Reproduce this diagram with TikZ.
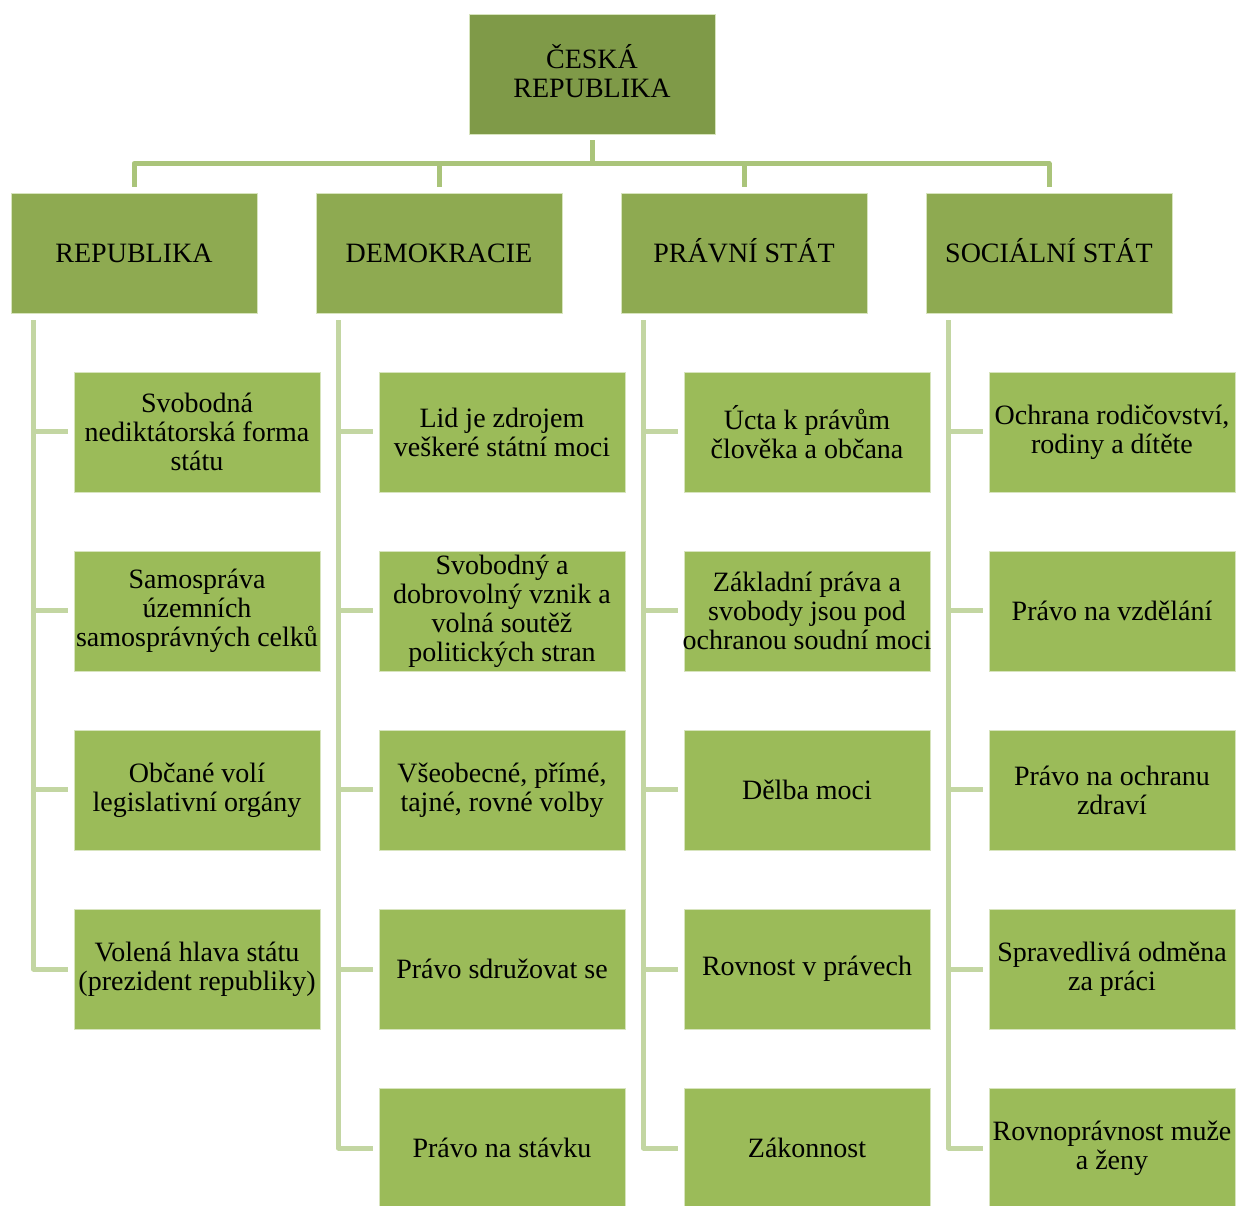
\documentclass[tikz,border=0pt]{standalone}
\usepackage{fontspec}
\setmainfont{Liberation Serif}
\definecolor{topfill}{HTML}{7F9A48}
\definecolor{midfill}{HTML}{8EAA51}
\definecolor{leaffill}{HTML}{9BBB59}
\definecolor{buscol}{HTML}{AAC47A}
\definecolor{colcol}{HTML}{C3D6A2}
\tikzset{
  box/.style={rectangle, minimum width=246pt, minimum height=120pt, inner sep=0pt,
    align=center, font=\fontsize{28}{29}\selectfont, text=black,
    draw=white!60!leaffill, line width=0.8pt},
  topbox/.style={box, fill=topfill},
  midbox/.style={box, fill=midfill, text height=26pt, text depth=6pt},
  leafbox/.style={box, fill=leaffill},
  busline/.style={draw=buscol, line width=5pt, line join=round},
  colline/.style={draw=colcol, line width=5pt, line join=round},
}
\begin{document}
\begin{tikzpicture}[x=1pt,y=1pt]
\useasboundingbox (0,0) rectangle (1236,1205);
% top
\node[topbox] (top) at (592,1131) {};
\node[font=\fontsize{28}{29}\selectfont, align=center, inner sep=0pt] (toptext) at (592,1134) {ČESKÁ\\REPUBLIKA};
% level 2
\node[midbox] (c1) at (134,952) {REPUBLIKA};
\node[midbox] (c2) at (439,952) {DEMOKRACIE};
\node[midbox] (c3) at (744,952) {PRÁVNÍ STÁT};
\node[midbox] (c4) at (1049,952) {SOCIÁLNÍ STÁT};
% column 1
\node[leafbox] (a1) at (197,773) {Svobodná\\nediktátorská forma\\státu};
\node[leafbox] (a2) at (197,594) {Samospráva\\územních\\samosprávných celků};
\node[leafbox] (a3) at (197,415) {Občané volí\\legislativní orgány};
\node[leafbox] (a4) at (197,236) {Volená hlava státu\\(prezident republiky)};
% column 2
\node[leafbox] (b1) at (502,773) {Lid je zdrojem\\veškeré státní moci};
\node[leafbox] (b2) at (502,594) {Svobodný a\\dobrovolný vznik a\\volná soutěž\\politických stran};
\node[leafbox] (b3) at (502,415) {Všeobecné, přímé,\\tajné, rovné volby};
\node[leafbox] (b4) at (502,236) {Právo sdružovat se};
\node[leafbox] (b5) at (502,57) {Právo na stávku};
% column 3
\node[leafbox] (d1) at (807,773) {Úcta k právům\\člověka a občana};
\node[leafbox] (d2) at (807,594) {Základní práva a\\svobody jsou pod\\\makebox[240pt][c]{ochranou soudní moci}};
\node[leafbox] (d3) at (807,415) {Dělba moci};
\node[leafbox] (d4) at (807,236) {Rovnost v právech};
\node[leafbox] (d5) at (807,57) {Zákonnost};
% column 4
\node[leafbox] (e1) at (1112,773) {Ochrana rodičovství,\\rodiny a dítěte};
\node[leafbox] (e2) at (1112,594) {Právo na vzdělání};
\node[leafbox] (e3) at (1112,415) {Právo na ochranu\\zdraví};
\node[leafbox] (e4) at (1112,236) {Spravedlivá odměna\\za práci};
\node[leafbox] (e5) at (1112,57) {Rovnoprávnost muže\\a ženy};
% bus connectors
\foreach \c in {c1,c2,c3,c4}
  \draw[busline] ([yshift=-6pt]top.south) -- ++(0,-23) -| ([yshift=6pt]\c.north);
% column connectors
\foreach \l in {a1,a2,a3,a4}
  \draw[colline] ([xshift=23pt,yshift=-7pt]c1.south west) |- ([xshift=-6pt]\l.west);
\foreach \l in {b1,b2,b3,b4,b5}
  \draw[colline] ([xshift=23pt,yshift=-7pt]c2.south west) |- ([xshift=-6pt]\l.west);
\foreach \l in {d1,d2,d3,d4,d5}
  \draw[colline] ([xshift=23pt,yshift=-7pt]c3.south west) |- ([xshift=-6pt]\l.west);
\foreach \l in {e1,e2,e3,e4,e5}
  \draw[colline] ([xshift=23pt,yshift=-7pt]c4.south west) |- ([xshift=-6pt]\l.west);
\end{tikzpicture}
\end{document}
